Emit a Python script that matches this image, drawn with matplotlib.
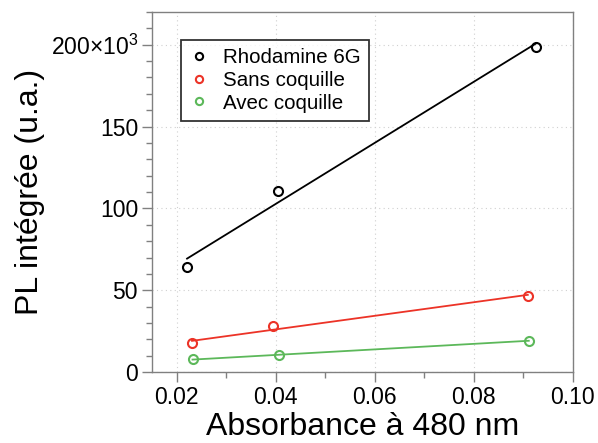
import numpy as np
import matplotlib
matplotlib.use("Agg")
import matplotlib.pyplot as plt
from matplotlib.ticker import MultipleLocator, FixedLocator

plt.rcParams['font.family'] = ['Liberation Sans', 'DejaVu Sans']
plt.rcParams['mathtext.fontset'] = 'custom'
plt.rcParams['mathtext.rm'] = 'Liberation Sans'
plt.rcParams['mathtext.it'] = 'Liberation Sans'

# Data
series_names = ["Rhodamine 6G", "Sans coquille", "Avec coquille"]
rhodamine_x = [0.0221, 0.0404, 0.0925]
rhodamine_y = [64000, 110700, 198800]
sans_x = [0.0231, 0.0395, 0.0909]
sans_y = [17500, 28000, 46700]
avec_x = [0.0232, 0.0406, 0.0911]
avec_y = [7800, 10400, 19200]
x_ticks = [0.02, 0.04, 0.06, 0.08, 0.10]
x_tick_labels = ["0.02", "0.04", "0.06", "0.08", "0.10"]
y_ticks = [0, 50000, 100000, 150000, 200000]
y_tick_labels = ["0", "50", "100", "150", r"200$\times$10$^{3}$"]

colors = ["#000000", "#ec3327", "#5cb85a"]

fig = plt.figure(figsize=(5.98, 4.43), dpi=100)
ax = fig.add_axes([0.254, 0.160, 0.704, 0.813])

datasets = [(rhodamine_x, rhodamine_y), (sans_x, sans_y), (avec_x, avec_y)]
for (xs, ys), name, c in zip(datasets, series_names, colors):
    xs = np.array(xs); ys = np.array(ys)
    k, b = np.polyfit(xs, ys, 1)
    xf = np.array([xs.min(), xs.max()])
    ax.plot(xf, k * xf + b, color=c, lw=1.3, zorder=2)
    ax.plot(xs, ys, linestyle='none', marker='o', mfc='none', mec=c,
            mew=1.5, ms=6.5, label=name, zorder=3)

ax.set_xlim(0.015, 0.10)
ax.set_ylim(0, 220000)
ax.xaxis.set_major_locator(FixedLocator(x_ticks))
ax.set_xticklabels(x_tick_labels)
ax.xaxis.set_minor_locator(MultipleLocator(0.01))
ax.yaxis.set_major_locator(FixedLocator(y_ticks))
ax.set_yticklabels(y_tick_labels)
ax.yaxis.set_minor_locator(MultipleLocator(10000))

ax.grid(True, which='major', color='#d0d0d0', linestyle=(0, (1, 3)), lw=0.8)
for s in ax.spines.values():
    s.set_color('#808080')
    s.set_linewidth(1.0)
ax.tick_params(which='major', direction='out', length=7, width=1.0,
               color='#808080', labelsize=16.5, labelcolor='black', pad=3)
ax.tick_params(which='minor', direction='out', length=4, width=1.0,
               color='#808080')

ax.set_xlabel("Absorbance à 480 nm", fontsize=23, labelpad=2)
ax.set_ylabel("PL intégrée (u.a.)", fontsize=23, labelpad=4)

leg = ax.legend(loc='upper left', bbox_to_anchor=(0.069, 0.922), borderaxespad=0,
                fontsize=14.8, frameon=True, fancybox=False, edgecolor='black',
                handlelength=1.0, handletextpad=0.65, borderpad=0.4,
                labelspacing=0.18, markerscale=0.8)
leg.get_frame().set_linewidth(1.3)

fig.savefig("out.png", dpi=100)
